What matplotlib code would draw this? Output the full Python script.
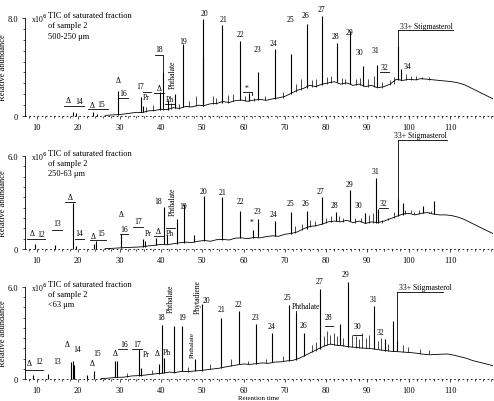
import numpy as np
import matplotlib
matplotlib.use('Agg')
import matplotlib.pyplot as plt
from matplotlib.lines import Line2D

plt.rcParams['font.family'] = ['Liberation Serif', 'DejaVu Serif']

W, H = 494, 402

# ---- data (retention time, abundance x10^6) ----
# panel 1 : 500-250 um
p1_base = [(26.5, .05), (28, .08), (30, .12), (32, .2), (34, .3), (35.5, .28), (37, .42),
           (38.5, .45), (40, .55), (41.5, .52), (43, .68), (44.5, .62), (46, .78), (47.5, .74),
           (49, .88), (50.5, .85), (52, 1.0), (53.5, 1.02), (55, 1.18), (56.5, 1.1), (58, 1.25),
           (59.5, 1.3), (61, 1.2), (62.5, 1.3), (64, 1.35), (65.5, 1.28), (67, 1.4), (68.5, 1.48),
           (70, 1.6), (71.5, 1.85), (73, 2.1), (74.5, 2.25), (76, 2.5), (77.5, 2.4), (79, 2.6),
           (80.5, 2.7), (82, 2.8), (83.5, 2.6), (85, 2.7), (86.5, 2.5), (88, 2.6), (89.5, 2.4),
           (91, 2.5), (92.5, 2.3), (94, 2.4), (95.5, 2.6), (97, 3.0), (98.5, 2.9), (100, 3.0),
           (101.5, 2.95), (103, 3.05), (104.5, 3.0), (106, 2.95), (107.5, 2.9), (109, 2.85),
           (110.5, 2.8), (112, 2.7), (113.5, 2.55), (115, 2.3), (116.5, 2.05), (118, 1.8),
           (120.4, 1.4)]
p1_peaks = [(18.7, 0, .35), (19.5, 0, .25), (23.5, 0, .3), (24.5, 0, .2), (29.7, .12, 2.07),
            (35.1, .3, 1.55), (35.7, .3, .8), (39.9, .5, 2.0), (40.4, .5, 3.6), (41.6, .5, 1.3),
            (43.4, .65, 1.8), (45.4, .7, 5.9), (50.1, .85, 4.8), (50.3, .85, 7.9), (54.9, 1.1, 7.4),
            (59.2, 1.3, 6.15), (61.3, 1.2, 1.9), (63.6, 1.3, 3.6), (67.6, 1.4, 5.5),
            (71.4, 1.8, 5.06), (75.3, 2.3, 7.5), (78.9, 2.5, 8.2), (82.6, 2.8, 6.0),
            (85.8, 2.6, 6.9), (89.0, 2.45, 4.1), (92.3, 2.35, 4.2), (97.5, 2.9, 5.7),
            (98.2, 2.9, 3.8)]
p1_noise = [(36.5, .3, .7), (38.2, .4, .9), (42.5, .6, 1.1), (44.3, .6, 1.0), (46.8, .7, 1.2),
            (48.5, .8, 1.6), (52.5, 1.0, 1.6), (53.4, 1.0, 1.5), (56.2, 1.1, 1.7), (57.5, 1.2, 1.8),
            (60.3, 1.2, 1.6), (62.5, 1.2, 1.5), (65.2, 1.3, 1.6), (69.5, 1.5, 2.0), (72.8, 2.0, 2.6),
            (73.8, 2.1, 3.0), (76.6, 2.4, 2.9), (77.6, 2.4, 3.0), (80.2, 2.6, 3.2), (81.3, 2.7, 3.3),
            (83.8, 2.6, 3.1), (84.6, 2.6, 3.0), (87.3, 2.5, 3.0), (88.2, 2.5, 3.1), (90.2, 2.4, 3.0),
            (91.5, 2.4, 3.3), (93.5, 2.3, 2.8), (95.5, 2.5, 2.9), (96.4, 2.6, 3.2), (99.3, 2.9, 3.4),
            (100.5, 2.9, 3.3), (101.8, 2.9, 3.3), (103.3, 3.0, 3.2), (105.0, 2.95, 3.15)]

# panel 2 : 250-63 um
p2_base = [(26.5, .02), (28, .04), (30, .07), (32, .1), (34, .12), (35.5, .14), (37, .2),
           (38.5, .24), (40, .3), (41.5, .27), (43, .34), (44.5, .4), (46, .44), (47.5, .42),
           (49, .5), (50.5, .55), (52, .5), (53.5, .6), (55, .62), (56.5, .58), (58, .7),
           (59.5, .72), (61, .67), (62.5, .74), (64, .72), (65.5, .8), (67, .85), (68.5, .82),
           (70, .95), (71.5, 1.0), (73, 1.1), (74.5, 1.3), (76, 1.45), (77.5, 1.5), (79, 1.6),
           (80.5, 1.75), (82, 1.8), (83.5, 1.75), (85, 1.85), (86.5, 1.7), (88, 1.8), (89.5, 1.65),
           (91, 1.75), (92.5, 1.7), (94, 1.8), (95.5, 1.95), (97, 2.1), (98.5, 2.25), (100, 2.3),
           (101.5, 2.2), (103, 2.3), (104.5, 2.35), (106, 2.25), (107.5, 2.2), (109, 2.2),
           (110.5, 2.15), (112, 2.05), (113.5, 1.9), (115, 1.7), (116.5, 1.5), (118, 1.3),
           (120.4, 1.0)]
p2_peaks = [(9.5, 0, .35), (14.4, 0, .25), (18.8, 0, 3.0), (19.5, 0, .2), (23.8, 0, .3),
            (24.4, 0, .5), (30.3, .08, 1.0), (35.7, .15, .65), (36.2, .15, .5), (38.9, .25, .7),
            (40.75, .3, 2.7), (41.5, .3, .9), (43.8, .35, 1.94), (45.6, .4, 2.9), (48.0, .45, .9),
            (50.4, .5, 3.44), (54.9, .6, 3.33), (59.2, .7, 2.43), (62.2, .7, 1.2), (63.6, .75, 1.94),
            (67.6, .85, 1.78), (71.4, 1.0, 2.37), (75.3, 1.3, 2.47), (78.9, 1.6, 3.33),
            (82.4, 1.8, 2.4), (85.8, 1.8, 3.8), (89.3, 1.7, 2.3), (92.1, 1.7, 4.6), (92.5, 1.7, 2.6),
            (97.5, 2.1, 3.2), (98.5, 2.2, 3.0), (103.5, 2.3, 2.8), (106.2, 2.25, 3.1)]
p2_noise = [(72.5, 1.05, 1.5), (74.2, 1.25, 1.6), (76.2, 1.45, 1.9), (77.3, 1.5, 1.8),
            (80.0, 1.65, 2.0), (81.2, 1.75, 2.1), (83.0, 1.8, 2.1), (84.2, 1.75, 2.0),
            (87.0, 1.7, 2.0), (88.5, 1.75, 2.0), (90.3, 1.7, 2.2), (91.3, 1.7, 2.3), (93.5, 1.7, 1.9),
            (95.0, 1.85, 2.0), (96.5, 2.0, 2.4), (99.2, 2.25, 2.5), (100.5, 2.3, 2.5),
            (101.3, 2.25, 2.4), (102.6, 2.25, 2.5), (104.8, 2.3, 2.4), (105.5, 2.3, 2.45)]

# panel 3 : <63 um
p3_base = [(25.5, .03), (27, .05), (29, .1), (31, .12), (33, .2), (34.5, .22), (36, .25),
           (37.5, .3), (39, .35), (40.5, .38), (42, .45), (43.5, .42), (45, .5), (46.5, .48),
           (48, .52), (49.5, .55), (51, .6), (52.5, .65), (54, .7), (55.5, .78), (57, .85),
           (58.5, .92), (60, .98), (61.5, .95), (63, 1.0), (64.5, 1.05), (66, 1.02), (67.5, 1.1),
           (69, 1.12), (70.5, 1.18), (72, 1.22), (73.5, 1.35), (75, 1.55), (76.5, 1.75),
           (78, 1.95), (79.5, 2.15), (81, 2.28), (82.5, 2.2), (84, 2.17), (85.5, 2.1), (87, 2.07),
           (88.5, 2.02), (90, 2.0), (91.5, 1.96), (93, 1.9), (94.5, 1.85), (96, 1.8), (97.5, 1.78),
           (99, 1.75), (100.5, 1.72), (102, 1.68), (103.5, 1.62), (105, 1.58), (106.5, 1.6),
           (108, 1.62), (109.5, 1.63), (111, 1.55), (112.5, 1.45), (114, 1.35), (115.5, 1.2),
           (117, 1.1), (118.5, 1.0), (120.4, .87)]
p3_peaks = [(9.1, 0, .25), (12.7, 0, .33), (18.3, 0, 1.1), (18.6, 0, 1.15), (18.9, 0, .9),
            (22.0, 0, .25), (23.9, 0, .54), (29.0, .1, 1.2), (29.3, .1, 1.2), (34.8, .2, 1.96),
            (35.3, .2, .7), (39.5, .35, 1.0), (40.2, .38, 3.54), (40.7, .4, 1.4), (43.2, .42, 3.48),
            (45.0, .5, 3.48), (48.3, .52, 1.3), (49.9, .55, 4.9), (54.5, .72, 4.0), (59.0, .95, 4.46),
            (63.0, 1.0, 3.6), (67.0, 1.1, 2.97), (71.1, 1.2, 4.8), (72.7, 1.25, 4.3),
            (74.7, 1.5, 3.0), (78.4, 1.95, 5.9), (83.4, 2.2, 3.6), (85.4, 2.1, 6.3),
            (91.7, 1.96, 4.74), (94.3, 1.85, 2.6), (96.1, 1.8, 3.8), (97.1, 1.8, 2.5)]
p3_noise = [(31.8, .12, .4), (37.8, .3, .6), (46.5, .48, .8), (52.0, .62, 1.0), (57.0, .85, 1.3),
            (61.0, .95, 1.2), (65.5, 1.03, 1.3), (69.5, 1.15, 1.5), (76.5, 1.75, 2.2),
            (77.5, 1.85, 2.4), (79.5, 2.15, 2.8), (80.3, 2.2, 3.1), (81.0, 2.28, 2.9),
            (81.8, 2.25, 3.0), (82.6, 2.2, 2.8), (84.2, 2.15, 2.7), (86.3, 2.1, 2.9),
            (87.2, 2.05, 2.8), (88.0, 2.05, 2.6), (88.8, 2.0, 3.0), (89.6, 2.0, 2.7),
            (90.5, 2.0, 2.9), (92.5, 1.95, 2.5), (93.3, 1.9, 2.7), (95.0, 1.85, 2.3),
            (98.5, 1.75, 2.2), (99.8, 1.73, 2.1), (102.7, 1.65, 1.95), (104.8, 1.6, 1.9)]

titles = [['TIC of saturated fraction', 'of sample 2', '500-250 μm'],
          ['TIC of saturated fraction', 'of sample 2', '250-63 μm'],
          ['TIC of saturated fraction', 'of sample 2', '<63 μm']]
ytops = [8.0, 6.0, 6.0]

# peak labels (text, x px, y px) and rotated labels
p1_labels = [('Δ', 68, 101), ('14', 79, 102), ('Δ', 92, 106), ('15', 101, 105), ('Δ', 118, 81),
             ('16', 123, 94), ('17', 140, 87), ('Pr', 146, 98), ('Δ', 159, 89), ('18', 159, 50),
             ('Ph', 170, 100), ('19', 183, 42), ('20', 204, 14), ('21', 223, 20), ('22', 240, 35),
             ('*', 247, 89), ('23', 257, 50), ('24', 273, 44), ('25', 290, 20), ('26', 306, 16),
             ('27', 321, 10), ('28', 335, 37), ('29', 349, 33), ('30', 359, 53), ('31', 375, 51),
             ('32', 384, 68), ('34', 407, 67), ('33+ Stigmasterol', 426, 27)]
p2_labels = [('Δ', 32, 234), ('12', 41, 235), ('13', 57, 224), ('Δ', 70, 198), ('14', 79, 234),
             ('Δ', 93, 237), ('15', 101, 234), ('Δ', 121, 215), ('16', 124, 230), ('17', 138, 222),
             ('Pr', 148, 234), ('Δ', 158, 232), ('18', 158, 202), ('Ph', 170, 234), ('19', 183, 207),
             ('20', 203, 192), ('21', 222, 193), ('22', 240, 202), ('*', 252, 223), ('23', 257, 212),
             ('24', 273, 215), ('25', 290, 204), ('26', 305, 204), ('27', 320, 192), ('28', 334, 206),
             ('29', 349, 185), ('30', 358, 206), ('31', 375, 172), ('32', 383, 204),
             ('33+ Stigmasterol', 420, 136)]
p3_labels = [('Δ', 29, 364), ('12', 39, 362), ('13', 57, 362), ('Δ', 67, 345), ('14', 77, 350),
             ('Δ', 92, 364), ('15', 97, 354), ('Δ', 115, 354), ('16', 124, 345), ('17', 137, 345),
             ('Pr', 146, 355), ('Δ', 157, 354), ('18', 161, 318), ('Ph', 167, 353), ('19', 182, 318),
             ('20', 206, 301), ('21', 221, 310), ('22', 238, 305), ('23', 255, 318), ('24', 272, 327),
             ('25', 287, 298), ('Phthalate', 306, 307), ('26', 303, 326), ('27', 319, 282),
             ('28', 328, 318), ('29', 346, 275), ('30', 357, 327), ('31', 373, 300), ('32', 380, 333),
             ('33+ Stigmasterol', 425, 288)]
rot_labels = [('Phthalate', 173, 75, 5.5), ('Phthalate', 173, 202, 5.5), ('Phthalate', 171, 299, 5.5),
              ('Phthalate', 192, 345, 5.0), ('Phytadiene', 198, 297, 5.5)]

brackets = [[(64, 107), (84, 107)], [(88, 110), (108, 110)], [(118, 99), (128, 99)],
            [(143, 93), (151, 93)], [(155, 56), (163, 56), (163, 73)], [(154, 94), (164, 94)],
            [(165, 105), (175, 105)], [(243, 93), (252, 93), (252, 96)], [(380, 73), (389, 73)],
            [(398, 31), (453, 31)], [(398, 31), (398, 47)],
            [(27, 240), (45, 240)], [(52, 231), (62, 231)], [(65, 203), (75, 203)],
            [(75, 240), (84, 240)], [(90, 241), (106, 241)], [(120, 235), (128, 235)],
            [(133, 228), (143, 228)], [(154, 237), (163, 237)], [(166, 229), (175, 229)],
            [(379, 209), (388, 209)], [(398, 141), (447, 141)], [(398, 141), (398, 202)],
            [(25, 371), (43, 371)], [(118, 350), (127, 350)], [(132, 350), (142, 350)],
            [(325, 327), (333, 327)], [(353, 336), (362, 336)], [(296, 312), (296, 317)],
            [(397, 293), (443, 293)], [(397, 293), (397, 345)]]

# ---- figure ----
fig = plt.figure(figsize=(W / 100, H / 100), dpi=100)
boxes = [(117, 98), (250, 93), (380, 92)]   # (y of zero line, height) in px


def fx(x):
    return x / W


def fy(y):
    return 1 - y / H


axes = []
for (y0, h) in boxes:
    axes.append(fig.add_axes([fx(25), fy(y0), 468 / W, h / H]))

panels = [(p1_base, p1_peaks, p1_noise), (p2_base, p2_peaks, p2_noise),
          (p3_base, p3_peaks, p3_noise)]

for ax, (base, peaks, noise), ytop, title in zip(axes, panels, ytops, titles):
    bt, by = zip(*base)
    ax.plot(bt, by, color='k', lw=0.6)
    nt, nlo, nhi = zip(*noise)
    ax.vlines(nt, nlo, nhi, color='k', lw=0.5)
    pt, plo, phi = zip(*peaks)
    ax.vlines(pt, plo, phi, color='k', lw=0.8, clip_on=False)

    ax.set_xlim(7.1, 120.4)
    ax.set_ylim(0, ytop)
    for s in ['top', 'right']:
        ax.spines[s].set_visible(False)
    ax.spines['left'].set_linewidth(0.6)
    ax.spines['bottom'].set_linewidth(0.6)
    ax.spines['bottom'].set_linestyle((0, (1, 4)))
    ax.set_xticks(np.arange(10, 111, 10))
    ax.set_xticks(np.arange(8, 121, 2), minor=True)
    ax.set_yticks([0, ytop])
    ax.set_yticklabels(['0', '%.1f' % ytop])
    ax.set_yticks(np.linspace(0, ytop, 10), minor=True)
    ax.tick_params(which='both', labelsize=6, length=2, width=0.5, pad=3)
    ax.tick_params(which='minor', length=1.5)
    ax.set_ylabel('Relative abundance', fontsize=6)
    ax.yaxis.set_label_coords(-0.038, 0.5)
    ax.text(0.012, 1.0, r'x10$^6$', transform=ax.transAxes, fontsize=5.5, va='center')
    for i, line in enumerate(title):
        ax.text(0.05, 1.03 - 0.105 * i, line, transform=ax.transAxes, fontsize=6, va='center')

for lab in [p1_labels, p2_labels, p3_labels]:
    for s, x, y in lab:
        fig.text(fx(x), fy(y), s, fontsize=5.5, ha='center', va='center')
for s, x, y, fs in rot_labels:
    fig.text(fx(x), fy(y), s, fontsize=fs, ha='center', va='center', rotation=90)
for pts in brackets:
    xs, ys = zip(*pts)
    fig.add_artist(Line2D([fx(v) for v in xs], [fy(v) for v in ys], color='k', lw=0.6))

fig.text(fx(259), fy(399), 'Retention time', fontsize=5, ha='center', va='center')

fig.savefig('out.png', dpi=100)
